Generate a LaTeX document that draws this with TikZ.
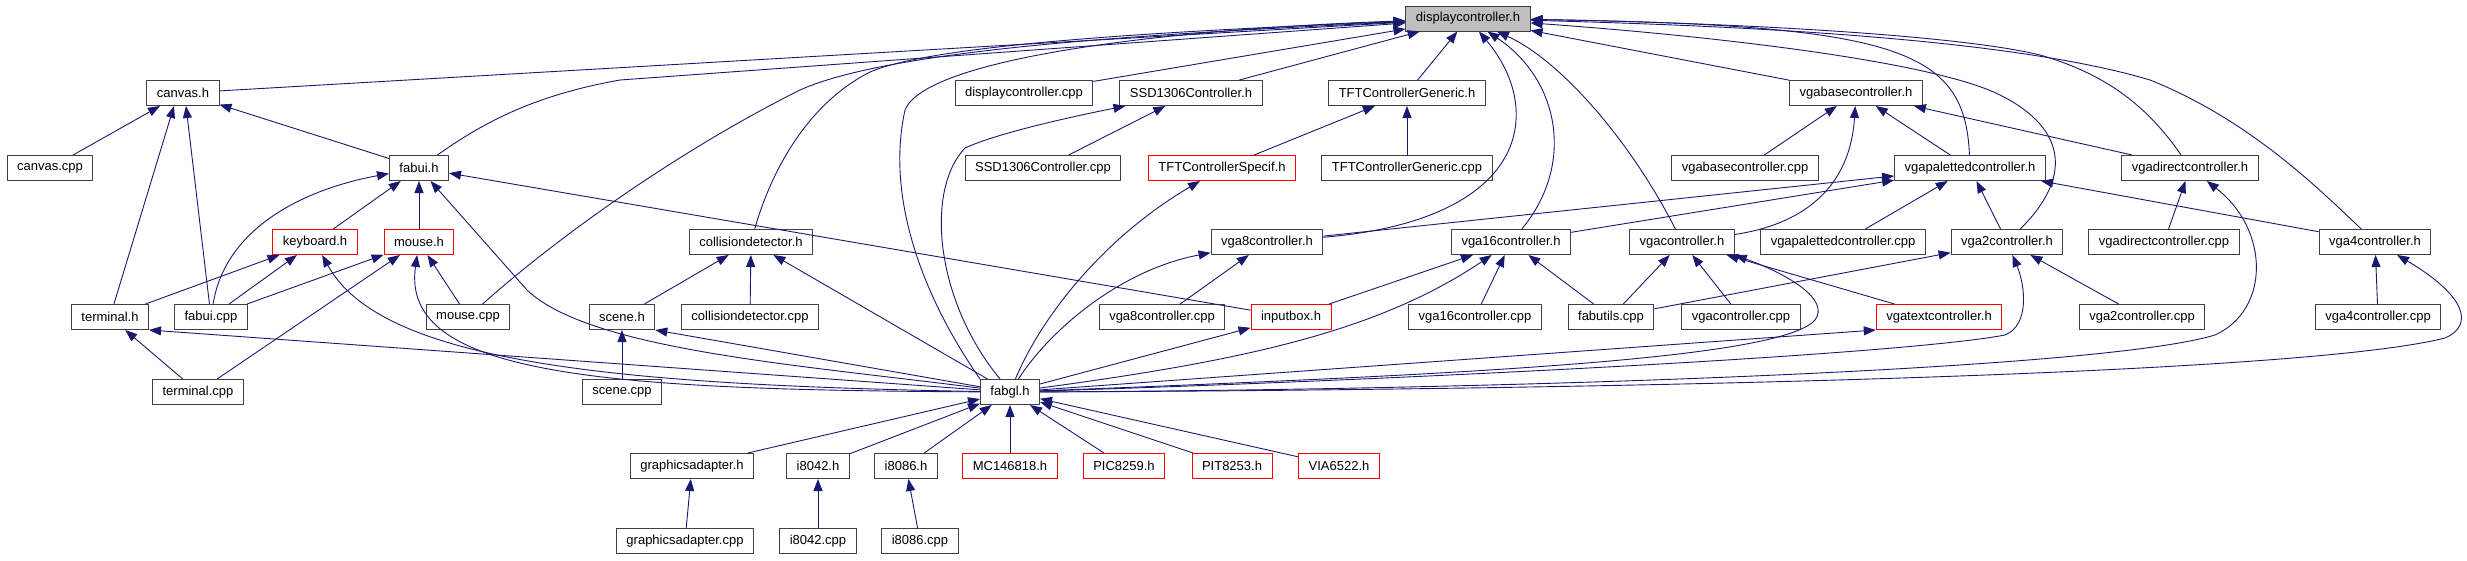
\documentclass[tikz,border=0pt]{standalone}
\usepackage{fontspec}
\setmainfont{Liberation Sans}
\usetikzlibrary{arrows.meta}
\definecolor{navy}{HTML}{191970}

\begin{document}
\begin{tikzpicture}[x=1pt, y=-1pt,
    every node/.style={rectangle, draw=black!75, line width=1pt, minimum height=25pt, inner xsep=10pt, inner ysep=0pt, font=\fontsize{13}{15}\selectfont},
    root/.style={fill=black!25},
    warn/.style={draw=red},
    dep/.style={draw=navy, line width=0.9pt, -{Triangle[length=12pt,width=9pt]}}]
    \useasboundingbox (0,0) rectangle (2467,560);

    % Files
    \node[root] (F_DCH) at (1468,18.5) {displaycontroller.h};

    \node (F_CANVH)  at (183,93)  {canvas.h};
    \node (F_DCC)    at (1024,93) {displaycontroller.cpp};
    \node (F_SSDH)   at (1191,93) {SSD1306Controller.h};
    \node (F_TFTGH)  at (1407,93) {TFTControllerGeneric.h};
    \node (F_VBASEH) at (1856,93) {vgabasecontroller.h};

    \node (F_CANVC)  at (50,168)   {canvas.cpp};
    \node (F_FABUIH) at (419,168)  {fabui.h};
    \node (F_SSDC)   at (1043,168) {SSD1306Controller.cpp};
    \node[warn] (F_TFTSH) at (1222,168) {TFTControllerSpecif.h};
    \node (F_TFTGC)  at (1407,168) {TFTControllerGeneric.cpp};
    \node (F_VBASEC) at (1745,168) {vgabasecontroller.cpp};
    \node (F_VPALH)  at (1970,168) {vgapalettedcontroller.h};
    \node (F_VDIRH)  at (2190,168) {vgadirectcontroller.h};

    \node[warn] (F_KEYBH)  at (315,242) {keyboard.h};
    \node[warn] (F_MOUSEH) at (419,242) {mouse.h};
    \node (F_COLLH)  at (751,242)  {collisiondetector.h};
    \node (F_VGA8H)  at (1267,242) {vga8controller.h};
    \node (F_VGA16H) at (1511,242) {vga16controller.h};
    \node (F_VGAH)   at (1682,242) {vgacontroller.h};
    \node (F_VPALC)  at (1843,242) {vgapalettedcontroller.cpp};
    \node (F_VGA2H)  at (2007,242) {vga2controller.h};
    \node (F_VDIRC)  at (2164,242) {vgadirectcontroller.cpp};
    \node (F_VGA4H)  at (2375,242) {vga4controller.h};

    \node (F_TERMH)  at (110,317)  {terminal.h};
    \node (F_FABUIC) at (211,317)  {fabui.cpp};
    \node (F_MOUSEC) at (468,317)  {mouse.cpp};
    \node (F_SCENEH) at (622,317)  {scene.h};
    \node (F_COLLC)  at (750,317)  {collisiondetector.cpp};
    \node (F_VGA8C)  at (1162,317) {vga8controller.cpp};
    \node[warn] (F_INPUTH) at (1291,317) {inputbox.h};
    \node (F_VGA16C) at (1475,317) {vga16controller.cpp};
    \node (F_FUTILC) at (1611,317) {fabutils.cpp};
    \node (F_VGAC)   at (1741,317) {vgacontroller.cpp};
    \node[warn] (F_VTEXTH) at (1939,317) {vgatextcontroller.h};
    \node (F_VGA2C)  at (2142,317) {vga2controller.cpp};
    \node (F_VGA4C)  at (2378,317) {vga4controller.cpp};

    \node (F_TERMC)  at (198,392)  {terminal.cpp};
    \node (F_SCENEC) at (622,392)  {scene.cpp};
    \node (F_FABGLH) at (1010,392) {fabgl.h};

    \node (F_GAH)    at (692,466)  {graphicsadapter.h};
    \node (F_I8042H) at (818,466)  {i8042.h};
    \node (F_I8086H) at (906,466)  {i8086.h};
    \node[warn] (F_MCH)  at (1010,466) {MC146818.h};
    \node[warn] (F_PICH) at (1124,466) {PIC8259.h};
    \node[warn] (F_PITH) at (1232,466) {PIT8253.h};
    \node[warn] (F_VIAH) at (1339,466) {VIA6522.h};

    \node (F_GAC)    at (685,541)  {graphicsadapter.cpp};
    \node (F_I8042C) at (818,541)  {i8042.cpp};
    \node (F_I8086C) at (920,541)  {i8086.cpp};

    % Includes of displaycontroller.h
    \draw[dep] (F_CANVH) -- (F_DCH); \draw[dep] (F_DCC) -- (F_DCH); \draw[dep] (F_SSDH) -- (F_DCH);
    \draw[dep] (F_TFTGH) -- (F_DCH); \draw[dep] (F_VBASEH) -- (F_DCH);
    \draw[dep] (F_FABUIH) .. controls (480,125) and (530,96) .. (620,80) -- (F_DCH);
    \draw[dep] (F_COLLH) .. controls (770,175) and (805,105) .. (870,72) .. controls (940,42) and (1200,30) .. (F_DCH);
    \draw[dep] (F_MOUSEC) .. controls (560,235) and (680,150) .. (800,90) .. controls (900,45) and (1200,32) .. (F_DCH);
    \draw[dep] (F_FABGLH.north west) .. controls (925,300) and (885,200) .. (905,110) .. controls (925,60) and (1150,30) .. (F_DCH);
    \draw[dep] (F_VGA8H) .. controls (1530,220) and (1545,110) .. (F_DCH);
    \draw[dep] (F_VGA16H) .. controls (1575,165) and (1560,80) .. (F_DCH);
    \draw[dep] (F_VGAH) .. controls (1630,140) and (1560,60) .. (F_DCH);
    \draw[dep] (F_VPALH) .. controls (1965,50) and (1900,25) .. (F_DCH);
    \draw[dep] (F_VGA2H) .. controls (2070,180) and (2070,130) .. (2000,95) .. controls (1930,60) and (1700,35) .. (F_DCH);
    \draw[dep] (F_VDIRH) .. controls (2150,110) and (2110,75) .. (2040,55) .. controls (1950,33) and (1700,22) .. (F_DCH);
    \draw[dep] (F_VGA4H) .. controls (2320,190) and (2250,120) .. (2150,80) .. controls (2000,35) and (1700,25) .. (F_DCH);

    % canvas.h and fabui.h
    \draw[dep] (F_CANVC) -- (F_CANVH); \draw[dep] (F_FABUIH) -- (F_CANVH);
    \draw[dep] (F_TERMH) -- ([xshift=-9pt]F_CANVH.south); \draw[dep] (F_FABUIC) -- ([xshift=3pt]F_CANVH.south);
    \draw[dep] (F_KEYBH) -- (F_FABUIH); \draw[dep] (F_MOUSEH) -- (F_FABUIH); \draw[dep] (F_INPUTH) -- (F_FABUIH);
    \draw[dep] (F_FABUIC) .. controls (225,230) and (300,190) .. (F_FABUIH);
    \draw[dep] (F_FABGLH) .. controls (800,365) and (590,350) .. (527,290) -- (F_FABUIH);

    % keyboard.h, mouse.h, terminal.h
    \draw[dep] (F_TERMH) -- (F_KEYBH); \draw[dep] (F_FABUIC) -- (F_KEYBH);
    \draw[dep] (F_FABGLH) .. controls (600,385) and (380,360) .. (F_KEYBH);
    \draw[dep] (F_FABUIC) -- (F_MOUSEH); \draw[dep] (F_TERMC) -- (F_MOUSEH); \draw[dep] (F_MOUSEC) -- (F_MOUSEH);
    \draw[dep] (F_FABGLH) .. controls (600,390) and (400,375) .. (F_MOUSEH);
    \draw[dep] (F_TERMC) -- (F_TERMH); \draw[dep] (F_FABGLH) -- (F_TERMH.south east);

    % scene.h and collisiondetector.h
    \draw[dep] (F_SCENEC) -- (F_SCENEH); \draw[dep] (F_FABGLH) -- (F_SCENEH.south east);
    \draw[dep] (F_SCENEH) -- (F_COLLH); \draw[dep] (F_COLLC) -- (F_COLLH); \draw[dep] (F_FABGLH) -- (F_COLLH);

    % SSD1306 and TFT
    \draw[dep] (F_SSDC) -- (F_SSDH);
    \draw[dep] ([xshift=-10pt]F_FABGLH.north) .. controls (935,300) and (925,190) .. (965,148) .. controls (1000,132) and (1080,115) .. (F_SSDH);
    \draw[dep] (F_TFTSH) -- (F_TFTGH); \draw[dep] (F_TFTGC) -- (F_TFTGH);
    \draw[dep] (F_FABGLH) .. controls (1040,320) and (1100,240) .. (F_TFTSH);

    % vga8, vga16, inputbox
    \draw[dep] (F_FABGLH) .. controls (1050,330) and (1120,270) .. (F_VGA8H);
    \draw[dep] (F_VGA8C) -- (F_VGA8H); \draw[dep] (F_VGA8H) -- (F_VPALH);
    \draw[dep] (F_VGA16H) -- (F_VPALH); \draw[dep] (F_INPUTH) -- (F_VGA16H);
    \draw[dep] (F_VGA16C) -- (F_VGA16H); \draw[dep] (F_FUTILC) -- (F_VGA16H);
    \draw[dep] (F_FABGLH) .. controls (1250,360) and (1380,330) .. (F_VGA16H);
    \draw[dep] (F_FABGLH) -- (F_INPUTH);

    % vgacontroller.h and vgatextcontroller.h
    \draw[dep] (F_FUTILC) -- (F_VGAH); \draw[dep] (F_VGAC) -- (F_VGAH); \draw[dep] (F_VTEXTH) -- (F_VGAH);
    \draw[dep] (F_FABGLH) .. controls (1450,375) and (1780,360) .. (1815,320) .. controls (1830,300) and (1790,275) .. (F_VGAH.south east);
    \draw[dep] (F_FABGLH) -- (F_VTEXTH.south west);
    \draw[dep] (F_VGAH) .. controls (1800,225) and (1850,190) .. (F_VBASEH);

    % vgapaletted, vgabase, vgadirect
    \draw[dep] (F_VPALC) -- (F_VPALH); \draw[dep] (F_VGA2H) -- (F_VPALH); \draw[dep] (F_VGA4H) -- (F_VPALH);
    \draw[dep] (F_VPALH) -- (F_VBASEH); \draw[dep] (F_VDIRH) -- (F_VBASEH); \draw[dep] (F_VBASEC) -- (F_VBASEH);
    \draw[dep] (F_VDIRC) -- (F_VDIRH);
    \draw[dep] (F_FABGLH) .. controls (1500,390) and (2100,370) .. (2215,335) .. controls (2270,310) and (2270,230) .. (F_VDIRH);

    % vga2 and vga4
    \draw[dep] (F_FUTILC) -- (F_VGA2H); \draw[dep] (F_VGA2C) -- (F_VGA2H);
    \draw[dep] (F_FABGLH) .. controls (1400,380) and (1900,355) .. (2005,335) .. controls (2030,325) and (2025,285) .. (F_VGA2H);
    \draw[dep] (F_VGA4C) -- (F_VGA4H);
    \draw[dep] (F_FABGLH) .. controls (1600,390) and (2300,375) .. (2445,338) .. controls (2475,325) and (2465,295) .. (F_VGA4H);

    % Emulator headers
    \draw[dep] (F_GAH) -- (F_FABGLH); \draw[dep] (F_I8042H) -- (F_FABGLH); \draw[dep] (F_I8086H) -- (F_FABGLH);
    \draw[dep] (F_MCH) -- (F_FABGLH); \draw[dep] (F_PICH) -- (F_FABGLH); \draw[dep] (F_PITH) -- (F_FABGLH);
    \draw[dep] (F_VIAH) -- (F_FABGLH);
    \draw[dep] (F_GAC) -- (F_GAH); \draw[dep] (F_I8042C) -- (F_I8042H); \draw[dep] (F_I8086C) -- (F_I8086H);

\end{tikzpicture}
\end{document}
